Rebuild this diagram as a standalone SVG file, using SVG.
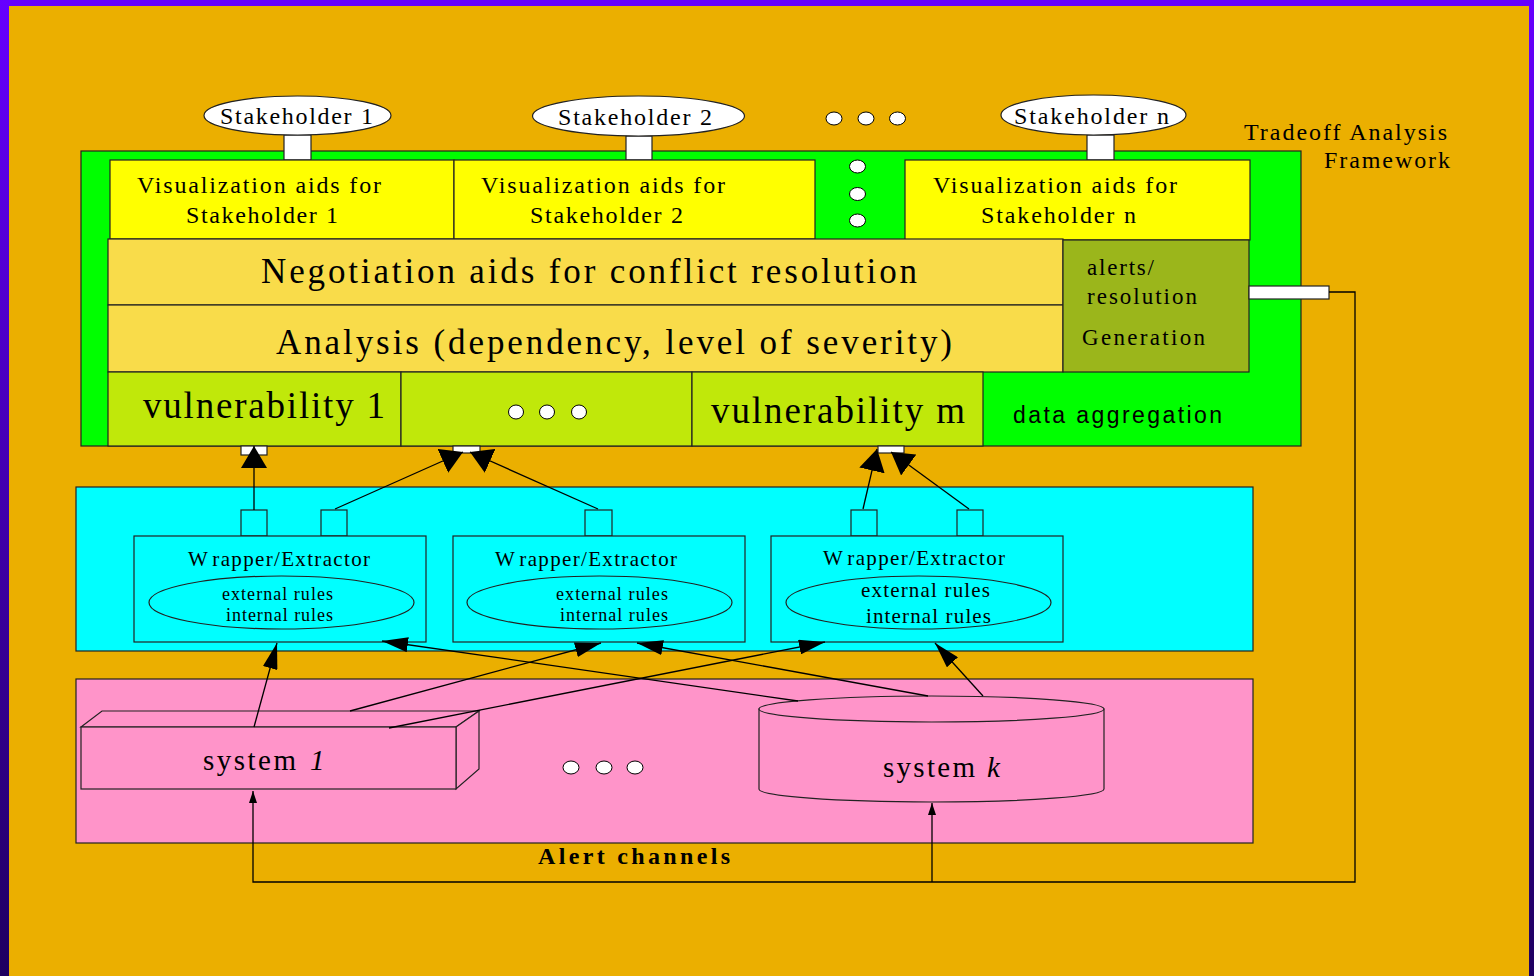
<svg xmlns="http://www.w3.org/2000/svg" width="1534" height="976" viewBox="0 0 1534 976">
<defs>
<linearGradient id="frame" x1="0" y1="0" x2="0" y2="1">
<stop offset="0" stop-color="#6600FF"/><stop offset="1" stop-color="#1E0060"/>
</linearGradient>
<marker id="big" markerUnits="userSpaceOnUse" viewBox="0 0 22 26" markerWidth="22" markerHeight="26" refX="22" refY="13" orient="auto"><path d="M0,0 L22,13 L0,26 Z" fill="#000"/></marker>
<marker id="mid" markerUnits="userSpaceOnUse" viewBox="0 0 26 15" markerWidth="26" markerHeight="15" refX="26" refY="7.5" orient="auto"><path d="M0,0 L26,7.5 L0,15 Z" fill="#000"/></marker>
<marker id="small" markerUnits="userSpaceOnUse" viewBox="0 0 12 8" markerWidth="12" markerHeight="8" refX="12" refY="4" orient="auto"><path d="M0,0 L12,4 L0,8 Z" fill="#000"/></marker>
<style>
.bx{stroke:#222;stroke-width:1.2}
.t{font-family:"Liberation Serif","Times New Roman",serif;fill:#000}
.s{font-family:"Liberation Sans",Arial,sans-serif;fill:#000}
.ln{stroke:#000;stroke-width:1.3;fill:none}
.dot{fill:#fff;stroke:#000;stroke-width:1}
.wh{fill:#fff;stroke:#222;stroke-width:1.2}
</style>
</defs>

<rect x="0" y="0" width="1534" height="976" fill="url(#frame)"/>
<rect x="9" y="6" width="1520" height="970" fill="#EBAF00"/>

<text class="t" x="1244" y="140" font-size="24" textLength="203" lengthAdjust="spacing">Tradeoff Analysis</text>
<text class="t" x="1324" y="168" font-size="24" textLength="126" lengthAdjust="spacing">Framework</text>

<!-- framework container -->
<g id="framework">
<rect x="81" y="151" width="1220" height="295" fill="#00FF00" class="bx"/>
<text class="s" x="1013" y="423" font-size="23" textLength="209" lengthAdjust="spacing">data aggregation</text>
<ellipse class="dot" cx="857.5" cy="166.5" rx="8" ry="6.5"/>
<ellipse class="dot" cx="857.5" cy="194" rx="8" ry="6.5"/>
<ellipse class="dot" cx="857.5" cy="220.5" rx="8" ry="6.5"/>
</g>

<!-- stakeholders -->
<g id="stakeholder1">
<rect x="284" y="135" width="27" height="25" class="wh"/>
<ellipse cx="297.5" cy="115.5" rx="93.5" ry="19.5" class="wh"/>
<text class="t" x="220" y="124" font-size="24" textLength="153" lengthAdjust="spacing">Stakeholder 1</text>
</g>
<g id="stakeholder2">
<rect x="626" y="136" width="26" height="24" class="wh"/>
<ellipse cx="638.5" cy="116" rx="106" ry="20" class="wh"/>
<text class="t" x="558" y="125" font-size="24" textLength="154" lengthAdjust="spacing">Stakeholder 2</text>
</g>
<g id="stakeholder-dots">
<ellipse class="dot" cx="834" cy="118.5" rx="8" ry="6.5"/>
<ellipse class="dot" cx="866" cy="118.5" rx="8" ry="6.5"/>
<ellipse class="dot" cx="897.5" cy="118.5" rx="8" ry="6.5"/>
</g>
<g id="stakeholdern">
<rect x="1087" y="135" width="27" height="25" class="wh"/>
<ellipse cx="1093.5" cy="115" rx="92.5" ry="20" class="wh"/>
<text class="t" x="1014" y="124" font-size="24" textLength="155" lengthAdjust="spacing">Stakeholder n</text>
</g>

<!-- visualization aids -->
<g id="vis1">
<rect x="110" y="160" width="344" height="79" fill="#FFFF00" class="bx"/>
<text class="t" x="137" y="193" font-size="24" textLength="244" lengthAdjust="spacing">Visualization aids for</text>
<text class="t" x="186" y="223" font-size="24" textLength="152" lengthAdjust="spacing">Stakeholder 1</text>
</g>
<g id="vis2">
<rect x="454" y="160" width="361" height="79" fill="#FFFF00" class="bx"/>
<text class="t" x="481" y="193" font-size="24" textLength="244" lengthAdjust="spacing">Visualization aids for</text>
<text class="t" x="530" y="223" font-size="24" textLength="153" lengthAdjust="spacing">Stakeholder 2</text>
</g>
<g id="visn">
<rect x="905" y="160" width="345" height="80" fill="#FFFF00" class="bx"/>
<text class="t" x="933" y="193" font-size="24" textLength="244" lengthAdjust="spacing">Visualization aids for</text>
<text class="t" x="981" y="223" font-size="24" textLength="155" lengthAdjust="spacing">Stakeholder n</text>
</g>

<g id="negotiation">
<rect x="108" y="239" width="955" height="66" fill="#F9DC4A" class="bx"/>
<text class="t" x="261" y="283" font-size="35" textLength="656" lengthAdjust="spacing">Negotiation aids for conflict resolution</text>
</g>
<g id="analysis">
<rect x="108" y="305" width="955" height="67" fill="#F9DC4A" class="bx"/>
<text class="t" x="276" y="354" font-size="35" textLength="676" lengthAdjust="spacing">Analysis (dependency, level of severity)</text>
</g>
<g id="alerts">
<rect x="1063" y="240" width="186" height="132" fill="#9BB61B" class="bx"/>
<text class="t" x="1087" y="275" font-size="23" textLength="67" lengthAdjust="spacing">alerts/</text>
<text class="t" x="1087" y="304" font-size="23" textLength="110" lengthAdjust="spacing">resolution</text>
<text class="t" x="1082" y="345" font-size="23" textLength="123" lengthAdjust="spacing">Generation</text>
<rect x="1249" y="286" width="80" height="13" class="wh"/>
</g>

<g id="vuln1">
<rect x="108" y="372" width="293" height="74" fill="#C0E80A" class="bx"/>
<text class="t" x="143" y="418" font-size="37" textLength="242" lengthAdjust="spacing">vulnerability 1</text>
<rect x="241" y="446" width="26" height="9" class="wh"/>
</g>
<g id="vuln-dots">
<rect x="401" y="372" width="291" height="74" fill="#C0E80A" class="bx"/>
<ellipse class="dot" cx="516" cy="412" rx="7.5" ry="7"/>
<ellipse class="dot" cx="547" cy="412" rx="7.5" ry="7"/>
<ellipse class="dot" cx="579" cy="412" rx="7.5" ry="7"/>
<rect x="453" y="446" width="27" height="7" class="wh"/>
</g>
<g id="vulnm">
<rect x="692" y="372" width="291" height="74" fill="#C0E80A" class="bx"/>
<text class="t" x="711" y="423" font-size="37" textLength="254" lengthAdjust="spacing">vulnerability m</text>
<rect x="878" y="446" width="26" height="7" class="wh"/>
</g>

<!-- wrapper layer -->
<g id="wrapper-layer">
<rect x="76" y="487" width="1177" height="164" fill="#00FFFF" class="bx"/>
</g>
<g id="wrapper1">
<rect x="241" y="510" width="26" height="26" fill="#00FFFF" class="bx"/>
<rect x="321" y="510" width="26" height="26" fill="#00FFFF" class="bx"/>
<rect x="134" y="536" width="292" height="106" fill="#00FFFF" class="bx"/>
<text class="t" x="188" y="566" font-size="21" textLength="182" lengthAdjust="spacing">W<tspan dx="4">rapper/Extractor</tspan></text>
<ellipse cx="281.5" cy="602.5" rx="132.5" ry="26.5" fill="none" class="bx"/>
<text class="t" x="222" y="600" font-size="18" textLength="111" lengthAdjust="spacing">external rules</text>
<text class="t" x="226" y="621" font-size="18" textLength="107" lengthAdjust="spacing">internal rules</text>
</g>
<g id="wrapper2">
<rect x="585" y="510" width="27" height="26" fill="#00FFFF" class="bx"/>
<rect x="453" y="536" width="292" height="106" fill="#00FFFF" class="bx"/>
<text class="t" x="495" y="566" font-size="21" textLength="182" lengthAdjust="spacing">W<tspan dx="4">rapper/Extractor</tspan></text>
<ellipse cx="599.5" cy="602.5" rx="132.5" ry="26.5" fill="none" class="bx"/>
<text class="t" x="556" y="600" font-size="18" textLength="112" lengthAdjust="spacing">external rules</text>
<text class="t" x="560" y="621" font-size="18" textLength="108" lengthAdjust="spacing">internal rules</text>
</g>
<g id="wrapper3">
<rect x="851" y="510" width="26" height="26" fill="#00FFFF" class="bx"/>
<rect x="957" y="510" width="26" height="26" fill="#00FFFF" class="bx"/>
<rect x="771" y="536" width="292" height="106" fill="#00FFFF" class="bx"/>
<text class="t" x="823" y="565" font-size="21" textLength="182" lengthAdjust="spacing">W<tspan dx="4">rapper/Extractor</tspan></text>
<ellipse cx="918.5" cy="602.5" rx="132.5" ry="26.5" fill="none" class="bx"/>
<text class="t" x="861" y="597" font-size="21" textLength="129" lengthAdjust="spacing">external rules</text>
<text class="t" x="866" y="623" font-size="21" textLength="125" lengthAdjust="spacing">internal rules</text>
</g>

<!-- systems layer -->
<g id="systems-layer">
<rect x="76" y="679" width="1177" height="164" fill="#FF94C9" class="bx"/>
<ellipse class="dot" cx="571" cy="767.5" rx="8" ry="6.5"/>
<ellipse class="dot" cx="604" cy="767.5" rx="8" ry="6.5"/>
<ellipse class="dot" cx="635" cy="767.5" rx="8" ry="6.5"/>
<text class="t" x="538" y="864" font-size="24" font-weight="bold" textLength="192" lengthAdjust="spacing">Alert channels</text>
</g>
<g id="system1">
<polygon points="81,727 102,711 479,711 456,727" fill="#FF94C9" stroke="#222" stroke-width="1.2"/>
<polygon points="456,727 479,711 479,769 456,789" fill="#FF94C9" stroke="#222" stroke-width="1.2"/>
<rect x="81" y="727" width="375" height="62" fill="#FF94C9" class="bx"/>
<text class="t" x="203" y="770" font-size="29" textLength="93" lengthAdjust="spacing">system </text>
<text class="t" x="310" y="770" font-size="29" font-style="italic">1</text>
</g>
<g id="systemk">
<path d="M759,709 L759,789 A172.5,13 0 0 0 1104,789 L1104,709 Z" fill="#FF94C9" class="bx"/>
<ellipse cx="931.5" cy="709" rx="172.5" ry="13" fill="#FF94C9" class="bx"/>
<text class="t" x="883" y="777" font-size="29" textLength="92" lengthAdjust="spacing">system </text>
<text class="t" x="987" y="777" font-size="29" font-style="italic">k</text>
</g>

<!-- connectors -->
<g id="connectors">
<line class="ln" x1="254" y1="510" x2="254" y2="446" marker-end="url(#big)"/>
<line class="ln" x1="335" y1="509" x2="463" y2="452" marker-end="url(#big)"/>
<line class="ln" x1="598" y1="509" x2="470" y2="452" marker-end="url(#big)"/>
<line class="ln" x1="863" y1="509" x2="877" y2="449" marker-end="url(#big)"/>
<line class="ln" x1="969" y1="509" x2="891" y2="452" marker-end="url(#big)"/>

<line class="ln" x1="254" y1="727" x2="277" y2="643" marker-end="url(#mid)"/>
<line class="ln" x1="350" y1="711" x2="601" y2="643" marker-end="url(#mid)"/>
<line class="ln" x1="389" y1="728" x2="825" y2="642" marker-end="url(#mid)"/>
<line class="ln" x1="798" y1="701" x2="382" y2="641" marker-end="url(#mid)"/>
<line class="ln" x1="928" y1="696" x2="637" y2="643" marker-end="url(#mid)"/>
<line class="ln" x1="983" y1="696" x2="935" y2="643" marker-end="url(#mid)"/>

<polyline class="ln" points="1329,292 1355,292 1355,882 253,882 253,791" marker-end="url(#small)"/>
<line class="ln" x1="932" y1="882" x2="932" y2="803" marker-end="url(#small)"/>
</g>
</svg>
